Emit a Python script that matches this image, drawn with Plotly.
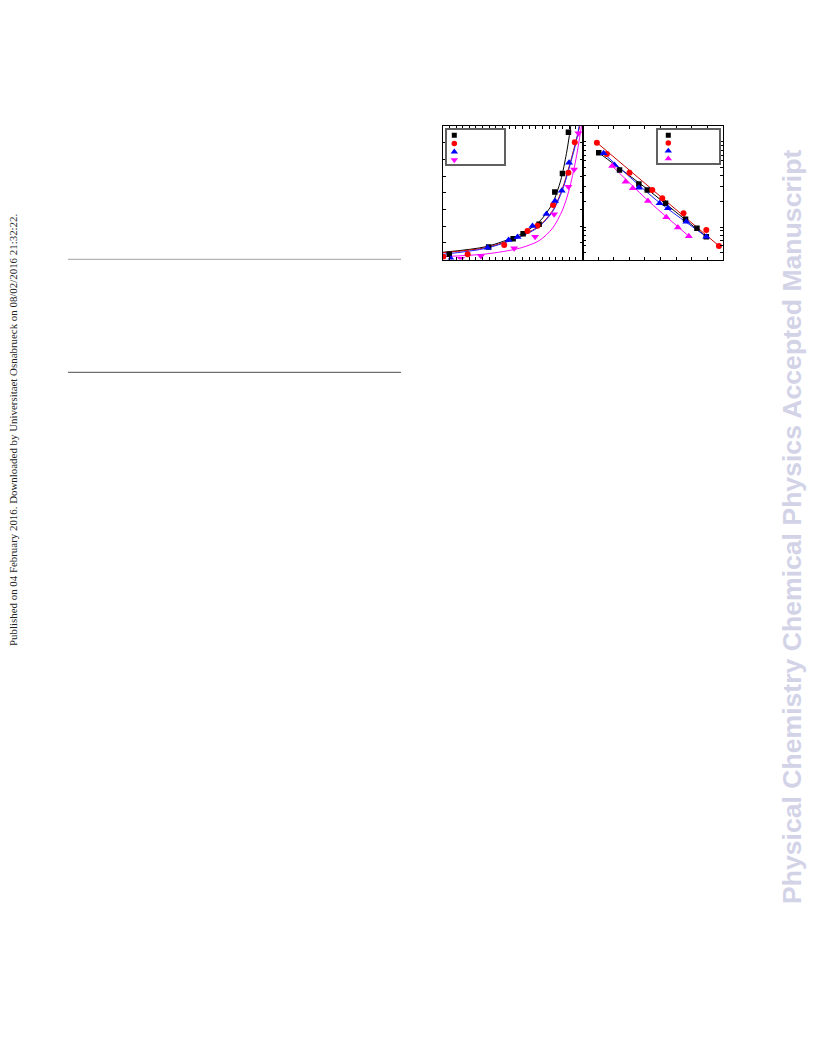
import plotly.graph_objects as go

# page is 816x1056; the html body adds an 8px margin, so the figure is 800x1040
OFF = 8
W, H = 800, 1040

# ---------------- data ----------------
series_names = ["S1", "S2", "S3", "S4"]

# left panel: measured points
left_black_x = [0.99, 6.90, 10.58, 12.08, 14.48, 16.84, 17.99, 18.89]
left_black_y = [0.31, 0.75, 1.25, 1.54, 2.11, 4.04, 5.16, 7.62]
left_red_x = [0.09, 3.75, 9.24, 12.74, 14.24, 16.58, 18.89, 19.84]
left_red_y = [0.17, 0.31, 0.87, 1.71, 2.02, 3.26, 5.20, 7.02]
left_blue_x = [1.24, 6.75, 9.90, 11.24, 13.49, 15.59, 16.88, 17.89, 18.98]
left_blue_y = [0.05, 0.71, 1.17, 1.35, 2.01, 2.72, 3.50, 4.12, 5.80]
left_mag_x = [2.74, 5.74, 10.73, 13.88, 16.73, 18.89, 19.73, 20.39]
left_mag_y = [0.05, 0.21, 0.67, 1.37, 2.71, 4.36, 5.40, 7.56]

# left panel: fitted curves
fit_black_x = [0, 6.49, 11.49, 14.49, 16.49, 17.74, 18.59, 19.24]
fit_black_y = [0.43, 0.77, 1.47, 2.26, 3.36, 4.76, 6.36, 7.99]
fit_red_x = [0, 6.49, 11.49, 14.49, 16.49, 17.99, 18.98, 19.99, 20.59]
fit_red_y = [0.41, 0.71, 1.37, 2.01, 2.92, 4.26, 5.56, 7.05, 7.99]
fit_blue_x = [0, 6.49, 11.49, 14.49, 16.49, 17.99, 18.98, 19.99, 20.49]
fit_blue_y = [0.31, 0.67, 1.33, 1.97, 2.86, 4.16, 5.46, 6.95, 7.99]
fit_mag_x = [0, 6.49, 11.49, 14.49, 16.49, 17.99, 18.98, 19.99, 20.84]
fit_mag_y = [0.17, 0.33, 0.67, 1.13, 1.87, 2.96, 4.16, 5.96, 7.99]

# right panel: measured points (log y)
right_black_x = [1.04, 2.37, 3.61, 4.15, 5.32, 6.60, 7.33, 7.93]
right_black_y = [7.48, 4.69, 3.21, 2.72, 1.90, 1.23, 0.97, 0.77]
right_red_x = [0.92, 1.56, 3.01, 4.47, 5.11, 6.47, 7.93, 8.74]
right_red_y = [9.82, 7.22, 4.35, 2.72, 2.18, 1.45, 0.92, 0.60]
right_blue_x = [1.35, 2.05, 3.61, 4.94, 5.47, 6.65, 7.93]
right_blue_y = [7.36, 5.36, 2.90, 1.90, 1.66, 1.15, 0.77]
right_mag_x = [1.90, 2.76, 3.22, 4.19, 5.37, 6.11, 6.81]
right_mag_y = [5.22, 3.41, 2.85, 2.02, 1.30, 0.99, 0.78]

# right panel: fitted lines
rfit_black_x = [1.04, 4.08, 7.93]
rfit_black_y = [7.48, 2.85, 0.77]
rfit_red_x = [0.92, 8.74]
rfit_red_y = [9.82, 0.60]
rfit_blue_x = [1.35, 4.72, 7.93]
rfit_blue_y = [7.36, 2.08, 0.77]
rfit_mag_x = [1.90, 4.19, 6.81]
rfit_mag_y = [5.22, 2.05, 0.78]

log_tickvals = [0.5, 0.6, 0.7, 0.8, 0.9, 1, 2, 3, 4, 5, 6, 7, 8, 9, 10]

# ---------------- styles ----------------
colors = ["#000000", "#ff0000", "#0000ff", "#ff00ff"]
line_colors = ["#000000", "#cc0000", "#2020ff", "#ff00ff"]
left_symbols = ["square", "circle", "triangle-up", "triangle-down"]
right_symbols = ["square", "circle", "triangle-up", "triangle-up"]
sizes = [5.5, 6, 7, 7]


def px_x(p):
    return (p - OFF) / W


def px_y(p):
    return 1 - (p - OFF) / H


fig = go.Figure()

left_pts = [(left_black_x, left_black_y), (left_red_x, left_red_y),
            (left_blue_x, left_blue_y), (left_mag_x, left_mag_y)]
left_fits = [(fit_black_x, fit_black_y), (fit_red_x, fit_red_y),
             (fit_blue_x, fit_blue_y), (fit_mag_x, fit_mag_y)]
right_pts = [(right_black_x, right_black_y), (right_red_x, right_red_y),
             (right_blue_x, right_blue_y), (right_mag_x, right_mag_y)]
right_fits = [(rfit_black_x, rfit_black_y), (rfit_red_x, rfit_red_y),
              (rfit_blue_x, rfit_blue_y), (rfit_mag_x, rfit_mag_y)]

for i in range(4):
    fx, fy = left_fits[i]
    fig.add_trace(go.Scatter(x=fx, y=fy, mode="lines", line=dict(color=line_colors[i], width=1, shape="spline", smoothing=0.8),
                             xaxis="x", yaxis="y", showlegend=False, hoverinfo="skip"))
for i in range(4):
    px_, py_ = left_pts[i]
    fig.add_trace(go.Scatter(x=px_, y=py_, mode="markers", name=series_names[i],
                             marker=dict(symbol=left_symbols[i], size=sizes[i], color=colors[i]),
                             xaxis="x", yaxis="y", showlegend=False))
for i in range(4):
    fx, fy = right_fits[i]
    fig.add_trace(go.Scatter(x=fx, y=fy, mode="lines", line=dict(color=line_colors[i], width=1, shape="spline", smoothing=0.6),
                             xaxis="x2", yaxis="y2", showlegend=False, hoverinfo="skip"))
for i in range(4):
    px_, py_ = right_pts[i]
    fig.add_trace(go.Scatter(x=px_, y=py_, mode="markers", name=series_names[i],
                             marker=dict(symbol=right_symbols[i], size=sizes[i], color=colors[i]),
                             xaxis="x2", yaxis="y2", showlegend=False))

# legend boxes drawn on small category axes
for i in range(4):
    fig.add_trace(go.Scatter(x=[0], y=[series_names[i]], mode="markers",
                             marker=dict(symbol=left_symbols[i], size=sizes[i] - 0.5, color=colors[i]),
                             xaxis="x3", yaxis="y3", showlegend=False, hoverinfo="skip"))
    fig.add_trace(go.Scatter(x=[0], y=[series_names[i]], mode="markers",
                             marker=dict(symbol=right_symbols[i], size=sizes[i] - 0.5, color=colors[i]),
                             xaxis="x4", yaxis="y4", showlegend=False, hoverinfo="skip"))

# ---------------- layout ----------------
PL, PM, PR = 442.7, 582.5, 723.0
PT, PB = 126.0, 259.5
ydom = [px_y(PB), px_y(PT)]

frame = dict(showline=True, linecolor="black", linewidth=1, mirror="ticks", ticks="inside",
             ticklen=3, tickcolor="black", tickwidth=1, showticklabels=False, showgrid=False, zeroline=False)

legbox = dict(showline=True, linecolor="#606060", linewidth=1.5, mirror=True, ticks="",
              showticklabels=False, showgrid=False, zeroline=False, fixedrange=True)

fig.update_layout(
    width=W, height=H, margin=dict(l=0, r=0, t=0, b=0),
    paper_bgcolor="white", plot_bgcolor="rgba(0,0,0,0)", showlegend=False,
    xaxis=dict(domain=[px_x(PL), px_x(PM)], range=[0, 21], dtick=1, anchor="y", **frame),
    yaxis=dict(domain=ydom, range=[0, 8], dtick=1, anchor="x", **frame),
    xaxis2=dict(domain=[px_x(PM), px_x(PR)], range=[0, 9], dtick=1, anchor="y2", **frame),
    yaxis2=dict(domain=ydom, type="log", range=[-0.382, 1.188], tickmode="array",
                tickvals=log_tickvals, anchor="x2", **frame),
    xaxis3=dict(domain=[px_x(446.7), px_x(503.7)], range=[-1, 6.5], anchor="y3", **legbox),
    yaxis3=dict(domain=[px_y(164), px_y(130)], type="category", categoryorder="array",
                categoryarray=series_names, range=[3.49, -0.65], anchor="x3", **legbox),
    xaxis4=dict(domain=[px_x(657.7), px_x(719.3)], range=[-1, 4.81], anchor="y4", **legbox),
    yaxis4=dict(domain=[px_y(162.7), px_y(130)], type="category", categoryorder="array",
                categoryarray=series_names, range=[3.51, -0.68], anchor="x4", **legbox),
)

# table rules on the left part of the page
fig.add_shape(type="line", xref="paper", yref="paper", x0=px_x(68), x1=px_x(401),
              y0=px_y(259.3), y1=px_y(259.3), line=dict(color="#b4b4b4", width=1.3))
fig.add_shape(type="line", xref="paper", yref="paper", x0=px_x(68), x1=px_x(401),
              y0=px_y(372.3), y1=px_y(372.3), line=dict(color="#707070", width=1.2))

# rotated provenance note
fig.add_annotation(xref="paper", yref="paper", x=px_x(13), y=px_y(430), showarrow=False,
                   text="Published on 04 February 2016. Downloaded by Universitaet Osnabrueck on 08/02/2016 21:32:22.",
                   textangle=-90, font=dict(family="Liberation Serif", size=10.9, color="#222222"),
                   xanchor="center", yanchor="middle")

# watermark
fig.add_annotation(xref="paper", yref="paper", x=px_x(792), y=px_y(527), showarrow=False,
                   text="<b>Physical Chemistry Chemical Physics Accepted Manuscript</b>",
                   textangle=-90, font=dict(family="Liberation Sans", size=26.6, color="#d3d3e8"),
                   xanchor="center", yanchor="middle")

fig.write_html("out.html")
